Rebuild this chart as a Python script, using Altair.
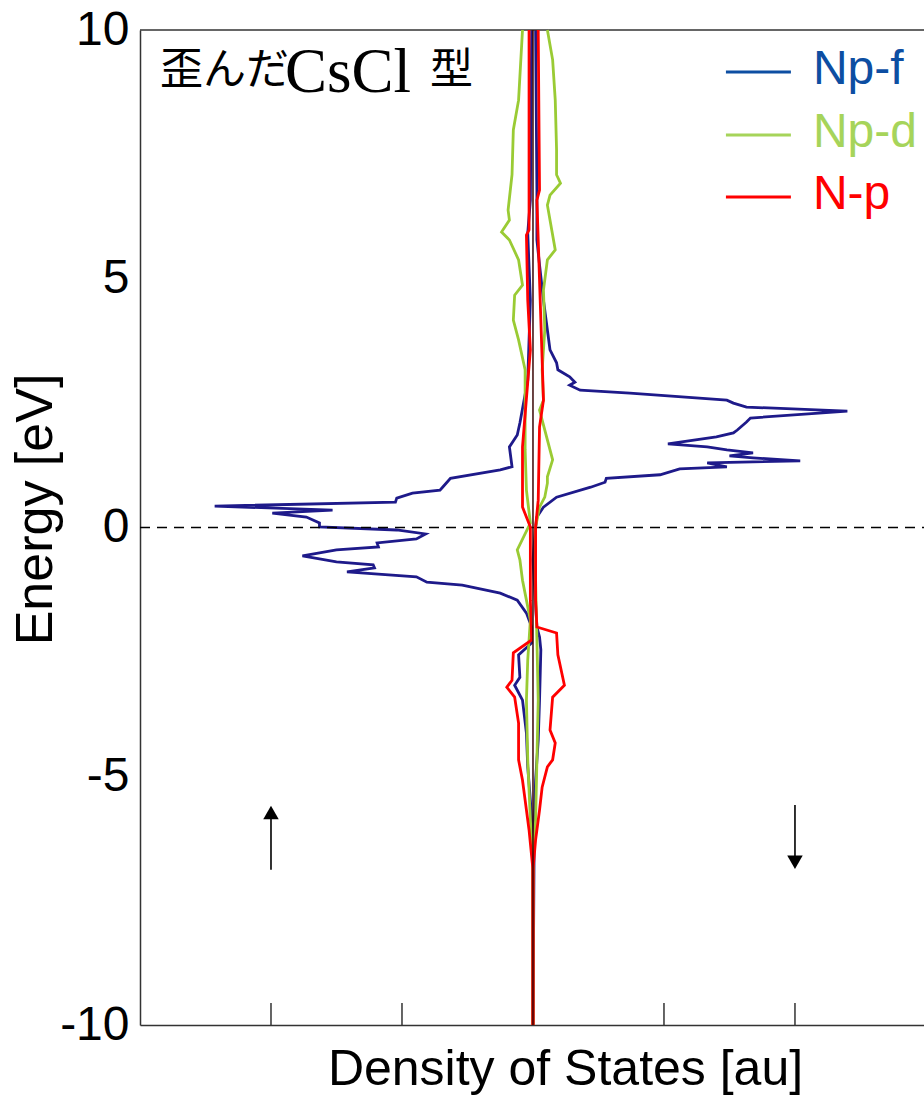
import altair as alt
import pandas as pd

# ---------------- data (energy in eV, DOS in arbitrary units) ----------------
# Np-f, spin up (drawn to the left)
npf_up_E = [10, 6.58, 5.92, 4.57, 2.96, 2.10, 1.86, 1.62, 1.22, 1.16, 0.99, 0.81, 0.75, 0.69, 0.59, 0.51,
            0.43, 0.35, 0.29, 0.21, 0.09, 0.01, -0.05, -0.13, -0.23, -0.31, -0.39, -0.45, -0.57, -0.69,
            -0.75, -0.81, -0.89, -0.99, -1.10, -1.16, -1.32, -1.46, -1.72, -2.00, -2.32, -2.56, -3.01,
            -3.17, -3.47, -4.13, -4.81, -5.48, -6.28, -10]
npf_up_D = [0.01, 0.02, 0.04, 0.02, 0.04, 0.10, 0.12, 0.18, 0.16, 0.25, 0.63, 0.69, 0.71, 0.92, 1.04, 1.05,
            2.43, 1.53, 1.99, 1.73, 1.63, 1.63, 1.04, 0.82, 0.89, 1.19, 1.18, 1.50, 1.76, 1.50,
            1.22, 1.21, 1.42, 0.89, 0.81, 0.54, 0.25, 0.12, 0.05, 0.01, 0.01, 0.11, 0.10,
            0.14, 0.08, 0.05, 0.04, 0.02, 0.0, 0.0]
# Np-f, spin down (drawn to the right)
npf_dn_E = [10, 6.78, 5.78, 5.28, 4.57, 3.97, 3.57, 3.31, 3.17, 3.03, 2.92, 2.86, 2.76, 2.70, 2.56, 2.50,
            2.42, 2.34, 2.20, 2.12, 1.96, 1.90, 1.82, 1.68, 1.62, 1.56, 1.50, 1.44, 1.40, 1.34, 1.30,
            1.22, 1.18, 1.06, 0.99, 0.91, 0.81, 0.61, 0.41, 0.21, 0.01, -0.65, -2.00, -2.20, -2.46,
            -3.47, -4.27, -5.08, -5.88, -10]
npf_dn_D = [0.02, 0.03, 0.03, 0.05, 0.08, 0.11, 0.13, 0.18, 0.19, 0.28, 0.32, 0.28, 0.36, 0.74, 1.48, 1.53,
            1.63, 2.40, 1.66, 1.63, 1.56, 1.53, 1.40, 1.03, 1.33, 1.48, 1.68, 1.50, 1.68, 2.04, 1.33,
            1.48, 1.12, 0.97, 0.56, 0.55, 0.44, 0.18, 0.08, 0.03, 0.02, 0.0, 0.03, 0.05, 0.06,
            0.05, 0.04, 0.02, 0.01, 0.0]
# Np-d
npd_up_E = [10, 8.59, 7.99, 7.09, 6.38, 6.18, 5.94, 5.78, 5.38, 4.87, 4.67, 4.17, 3.77, 3.17, 2.56, 1.56,
            0.75, 0.09, -0.45, -0.65, -1.06, -1.46, -1.86, -2.66, -3.47, -4.67, -5.88, -6.68, -10]
npd_up_D = [0.08, 0.11, 0.15, 0.16, 0.19, 0.18, 0.24, 0.18, 0.11, 0.08, 0.14, 0.15, 0.11, 0.06, 0.06, 0.06,
            0.05, 0.02, 0.12, 0.10, 0.08, 0.05, 0.02, 0.04, 0.05, 0.04, 0.02, 0.0, 0.0]
npd_dn_E = [10, 9.40, 8.59, 7.59, 7.09, 6.92, 6.68, 6.48, 5.58, 5.38, 4.77, 3.97, 3.17, 2.56, 2.36, 1.36,
            1.02, 0.89, 0.61, 0.41, 0.01, -1.06, -2.26, -3.47, -4.67, -5.88, -6.68, -10]
npd_dn_D = [0.11, 0.15, 0.17, 0.18, 0.18, 0.21, 0.13, 0.11, 0.17, 0.11, 0.08, 0.09, 0.07, 0.08, 0.05, 0.15,
            0.11, 0.11, 0.09, 0.05, 0.02, 0.02, 0.03, 0.04, 0.03, 0.02, 0.0, 0.0]
# N-p
np_up_E = [10, 5.98, 5.88, 4.57, 3.57, 1.62, 0.89, 0.41, 0.01, -1.46, -2.26, -2.52, -3.07, -3.21, -3.41,
           -3.93, -4.67, -5.08, -5.48, -6.08, -6.88, -10]
np_up_D = [0.03, 0.03, 0.05, 0.04, 0.02, 0.08, 0.08, 0.08, 0.02, 0.02, 0.01, 0.15, 0.16, 0.20, 0.14,
           0.11, 0.11, 0.08, 0.06, 0.03, 0.0, 0.0]
np_dn_E = [10, 6.78, 6.58, 2.56, 2.02, 0.55, 0.01, -1.46, -2.00, -2.12, -2.56, -3.17, -3.41, -4.07, -4.33,
           -4.67, -4.81, -5.22, -5.68, -6.28, -6.88, -10]
np_dn_D = [0.04, 0.05, 0.03, 0.08, 0.05, 0.04, 0.02, 0.02, 0.03, 0.18, 0.19, 0.24, 0.15, 0.13, 0.17,
           0.15, 0.11, 0.07, 0.05, 0.02, 0.0, 0.0]

orbitals = ["Np-f", "Np-d", "N-p"]
curve_colors = ["#1e1a8a", "#9acb34", "#ff0000"]
legend_colors = ["#0d4ea2", "#a6d45a", "#ff0000"]

y_ticks = [-10, -5, 0, 5, 10]
x_ticks = [-2, -1, 1, 2]
title_parts = ["歪んだ", "CsCl", "型"]

# ---------------- build tables ----------------
series = {
    ("Np-f", "up"): (npf_up_E, npf_up_D), ("Np-f", "down"): (npf_dn_E, npf_dn_D),
    ("Np-d", "up"): (npd_up_E, npd_up_D), ("Np-d", "down"): (npd_dn_E, npd_dn_D),
    ("N-p", "up"): (np_up_E, np_up_D), ("N-p", "down"): (np_dn_E, np_dn_D),
}
rows = []
for (orb, spin), (es, ds) in series.items():
    sign = -1 if spin == "up" else 1
    for i, (e, d) in enumerate(zip(es, ds)):
        rows.append({"orbital": orb, "spin": spin, "energy": e, "dos": sign * d, "idx": i})
df = pd.DataFrame(rows)

XMIN, XMAX = -3, 2.985
xs = alt.Scale(domain=[XMIN, XMAX], nice=False, zero=False)
ys = alt.Scale(domain=[-10, 10], nice=False, zero=False)

FONT = "Liberation Sans"
xaxis = alt.Axis(title="Density of States [au]", labels=False, ticks=False, grid=False,
                 domainColor="#333333", domainWidth=1.5,
                 titleFont=FONT, titleFontSize=50, titleFontWeight="normal", titleColor="black",
                 titleX=425, titleY=59, titleBaseline="alphabetic", titleAlign="center")
yaxis = alt.Axis(title="Energy [eV]", values=y_ticks,
                 labelExpr="datum.value < 0 ? '-' + abs(datum.value) : '' + datum.value",
                 labelFont=FONT, labelFontSize=48, labelColor="black", labelPadding=11,
                 ticks=False, tickSize=0, grid=False, domainColor="#333333", domainWidth=1.5,
                 titleFont=FONT, titleFontSize=52, titleFontWeight="normal", titleColor="black",
                 titleAngle=270, titleX=-89, titleY=479, titleAlign="center", titleBaseline="alphabetic")


def X(field):
    return alt.X(field, type="quantitative", scale=xs, axis=xaxis)


def Y(field):
    return alt.Y(field, type="quantitative", scale=ys, axis=yaxis)


def curve(orb, color):
    return alt.Chart(df).transform_filter(alt.datum.orbital == orb).mark_line(
        color=color, strokeWidth=2.8, strokeJoin="miter"
    ).encode(
        x=X("dos"),
        y=Y("energy"),
        detail="spin:N",
        order=alt.Order("idx:Q"),
    )


# zero dashed line and top frame
hl = pd.DataFrame({"x": [XMIN, XMIN], "x2": [XMAX, XMAX], "y": [0, 10], "kind": ["zero", "top"]})
zero_line = alt.Chart(hl).transform_filter(alt.datum.kind == "zero").mark_rule(
    color="black", strokeWidth=1.5, strokeDash=[10, 7]
).encode(x=X("x"), x2="x2:Q", y=Y("y"))
top_line = alt.Chart(hl).transform_filter(alt.datum.kind == "top").mark_rule(
    color="#333333", strokeWidth=1.5
).encode(x=X("x"), x2="x2:Q", y=Y("y"))

# center line
cl = pd.DataFrame({"x": [0], "y": [-10], "y2": [10]})
center_line = alt.Chart(cl).mark_rule(color="#3a0606", strokeWidth=1.5).encode(
    x=X("x"), y=Y("y"), y2="y2:Q")

# inward ticks on bottom axis
tk = pd.DataFrame({"x": x_ticks, "y": [-10] * len(x_ticks), "y2": [-9.56] * len(x_ticks)})
ticks = alt.Chart(tk).mark_rule(color="#333333", strokeWidth=1.5).encode(
    x=X("x"), y=Y("y"), y2="y2:Q")

# spin arrows
ar = pd.DataFrame({"x": [-2, 2], "y": [-6.88, -5.58], "y2": [-5.85, -6.62]})
arrow_shafts = alt.Chart(ar).mark_rule(color="black", strokeWidth=1.6).encode(
    x=X("x"), y=Y("y"), y2="y2:Q")
heads = pd.DataFrame({"x": [-2, 2], "y": [-5.73, -6.73], "shape": ["triangle-up", "triangle-down"]})
arrow_heads = alt.Chart(heads).mark_point(filled=True, color="black", opacity=1, size=240).encode(
    x=X("x"), y=Y("y"), shape=alt.Shape("shape:N", scale=None))

# legend (drawn in data space)
lg = pd.DataFrame({"name": orbitals, "color": legend_colors,
                   "y": [9.156, 7.889, 6.643], "x": [1.473] * 3, "x2": [1.969] * 3, "tx": [2.137] * 3})
legend_lines = alt.Chart(lg).mark_rule(strokeWidth=3).encode(
    x=X("x"), x2="x2:Q", y=Y("y"), color=alt.Color("color:N", scale=None))
legend_text = alt.Chart(lg).mark_text(font=FONT, fontSize=48, align="left", baseline="middle", dy=-2).encode(
    x=X("tx"), y=Y("y"), text="name:N", color=alt.Color("color:N", scale=None))

# structure label
tl = pd.DataFrame({"t": title_parts, "x": [-2.847, -1.893, -0.786], "y": [9.166, 8.754, 9.166]})
title_cjk = alt.Chart(tl).transform_filter(alt.datum.t != "CsCl").mark_text(
    font="Noto Sans CJK JP", fontSize=43, align="left", baseline="middle", color="black"
).encode(x=X("x"), y=Y("y"), text="t:N")
title_lat = alt.Chart(tl).transform_filter(alt.datum.t == "CsCl").mark_text(
    font="Liberation Serif", fontSize=63, align="left", baseline="alphabetic", color="black"
).encode(x=X("x"), y=Y("y"), text="t:N")

chart = alt.layer(
    curve("Np-f", curve_colors[0]),
    zero_line, top_line,
    curve("Np-d", curve_colors[1]),
    curve("N-p", curve_colors[2]),
    center_line, ticks, arrow_shafts, arrow_heads,
    legend_lines, legend_text, title_cjk, title_lat,
).properties(
    width=784, height=995,
    autosize=alt.AutoSizeParams(type="none"),
    padding={"left": 140, "top": 30, "right": 0, "bottom": 72},
    background="white",
).configure_view(stroke=None)

chart.save("out.html", embed_options={"renderer": "svg", "actions": False})
